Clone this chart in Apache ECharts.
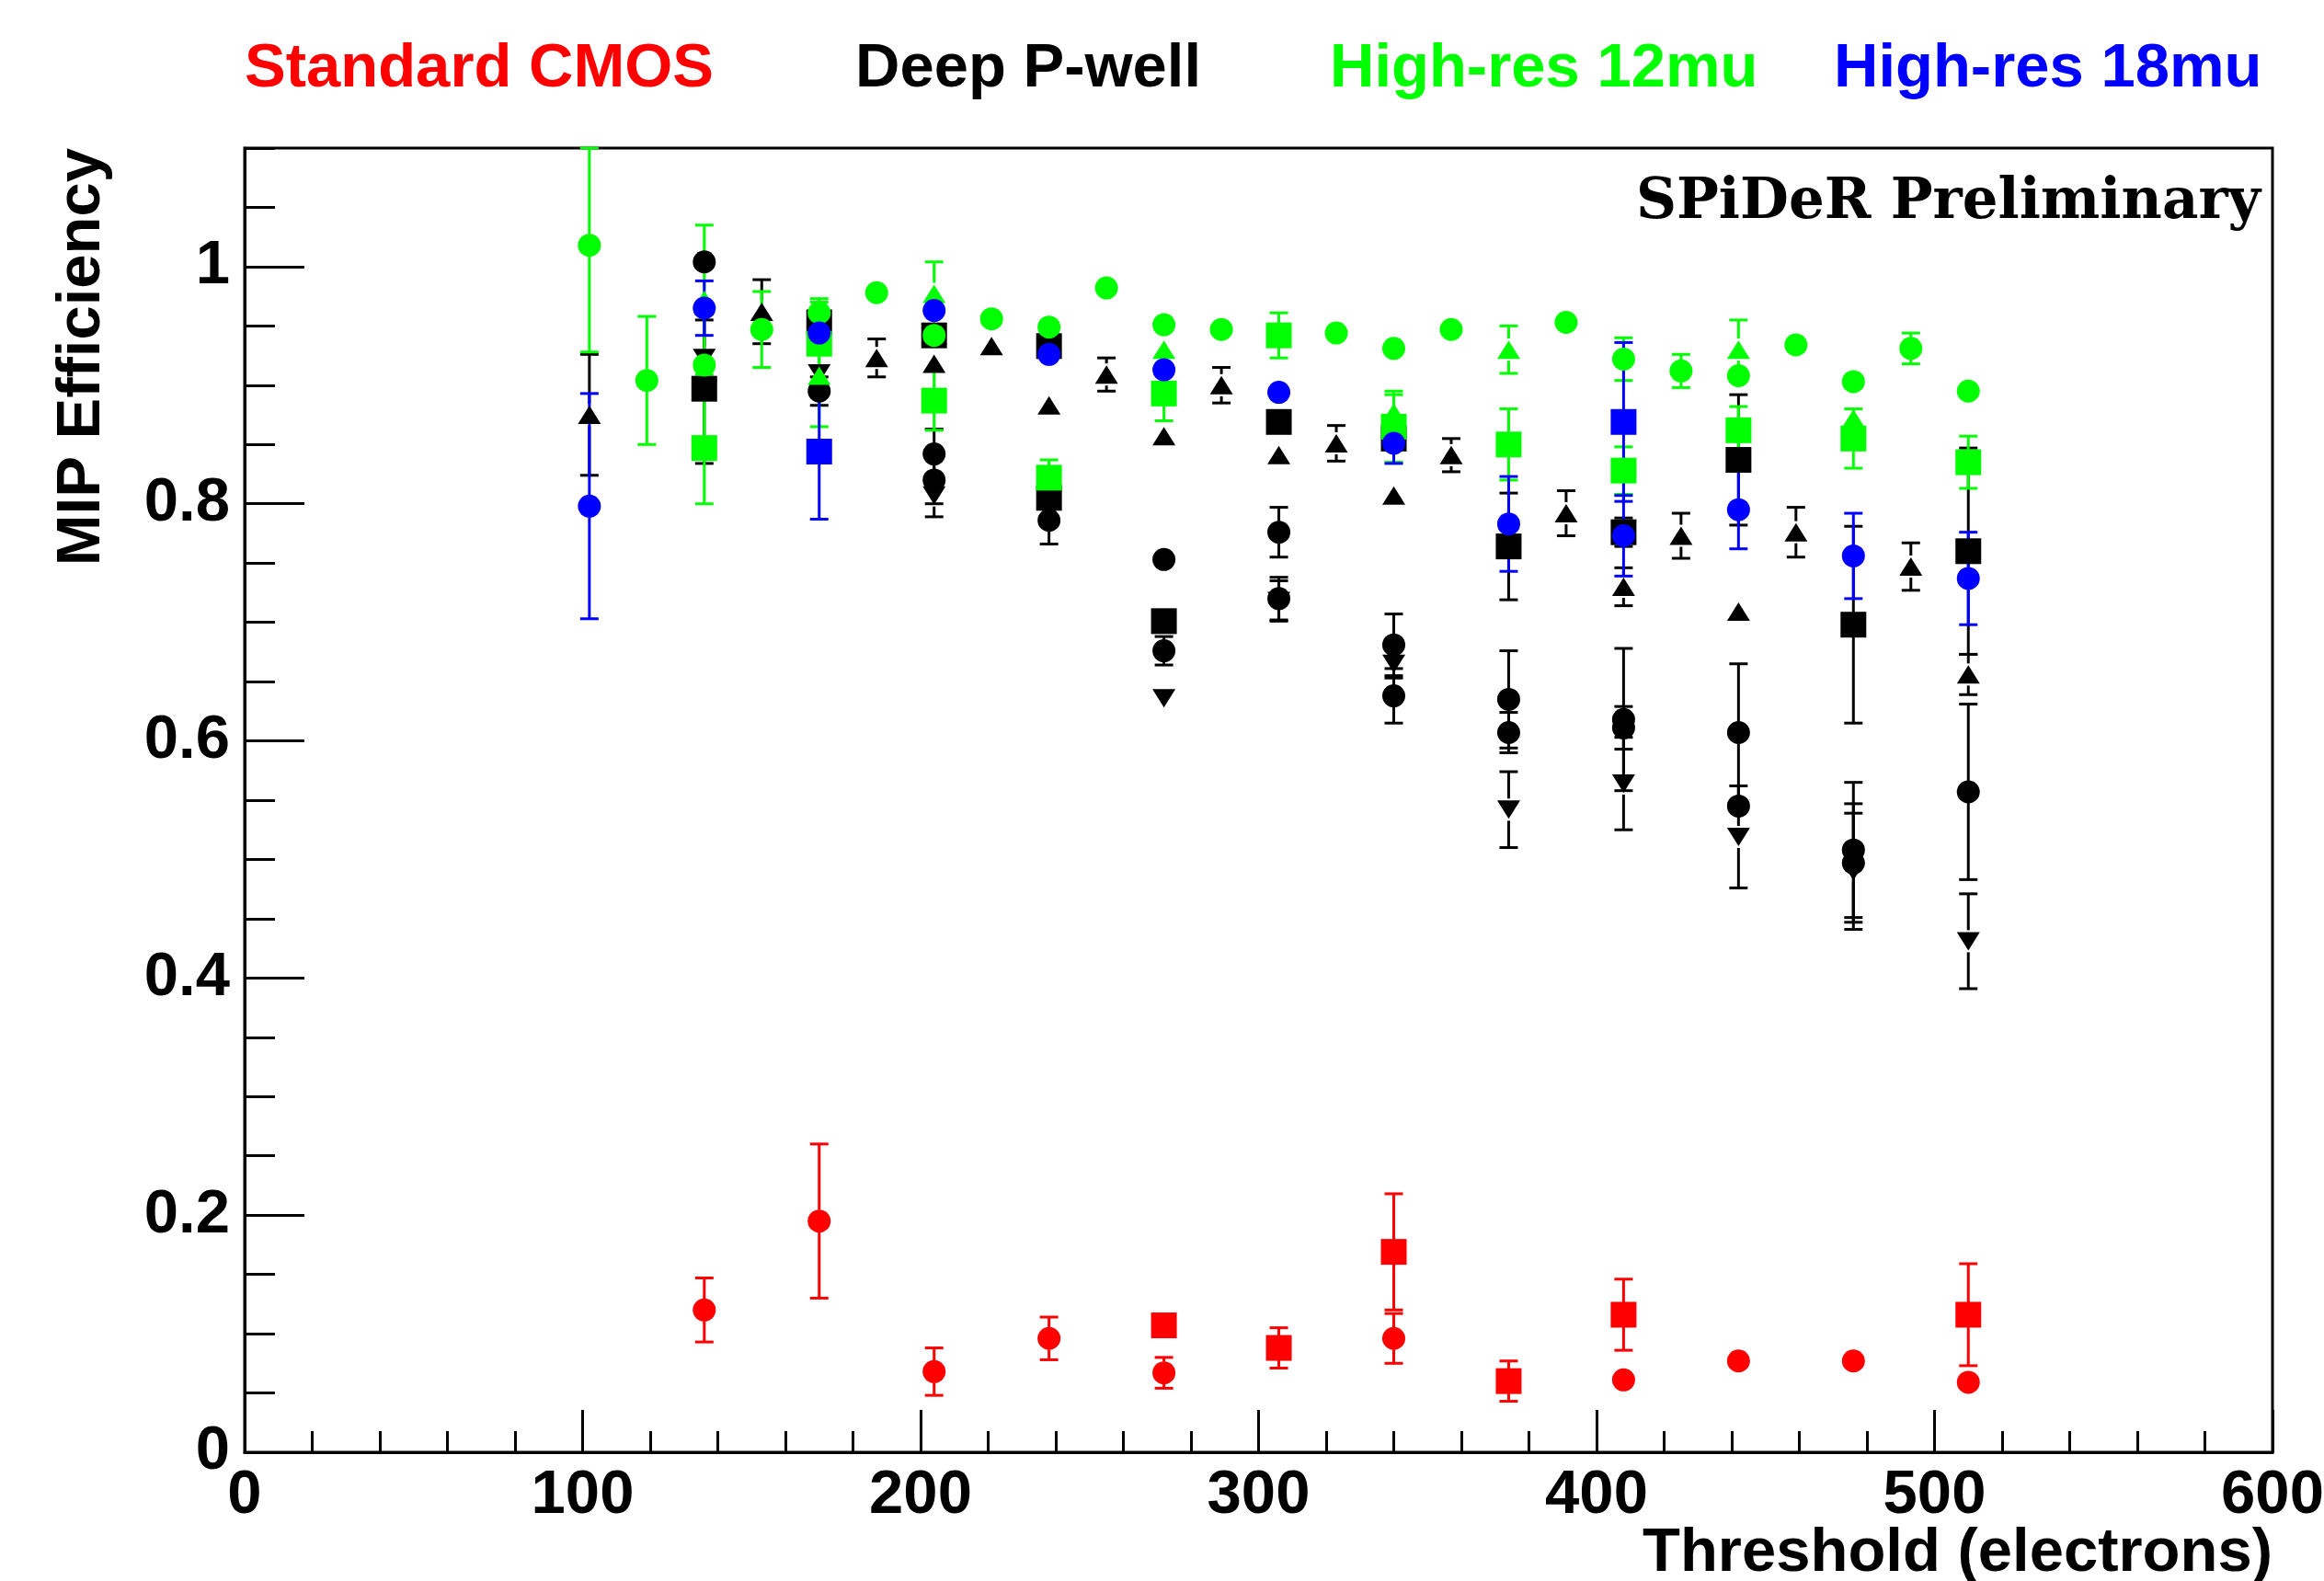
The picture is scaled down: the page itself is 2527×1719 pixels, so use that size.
<!DOCTYPE html>
<html>
<head>
<meta charset="utf-8">
<script src="https://cdn.jsdelivr.net/npm/echarts@6/dist/echarts.min.js"></script>
<style>
html,body{margin:0;padding:0;background:#ffffff;}
#chart{width:2527px;height:1719px;}
</style>
</head>
<body>
<div id="chart"></div>
<script>
// ---- tick labels ----
const xTickLabels = ['0', '100', '200', '300', '400', '500', '600'];
const yTickLabels = ['0', '0.2', '0.4', '0.6', '0.8', '1'];

// ---- data: [threshold (electrons), MIP efficiency, error] ----
// Standard CMOS (red)
const cmosCircle = [[136,0.120,0.027],[170,0.195,0.065],[204,0.068,0.020],[238,0.096,0.018],[272,0.067,0.013],[340,0.096,0.021],[408,0.061,0.005],[442,0.077,0.005],[476,0.077,0.005],[510,0.059,0.005]];
const cmosSquare = [[272,0.107,0.005],[306,0.088,0.017],[340,0.169,0.049],[374,0.060,0.017],[408,0.116,0.030],[510,0.116,0.043]];

// Deep P-well (black)
const dpwCircleA = [[136,1.004,0.010],[170,0.895,0.012],[204,0.842,0.021],[238,0.786,0.020],[272,0.753,0.010],[306,0.776,0.021],[340,0.681,0.026],[374,0.635,0.041],[408,0.618,0.060],[442,0.607,0.058],[476,0.508,0.057],[510,0.557,0.074]];
const dpwCircleB = [[204,0.820,0.020],[272,0.676,0.012],[306,0.720,0.018],[340,0.638,0.023],[374,0.607,0.017],[408,0.611,0.018],[442,0.545,0.010],[476,0.497,0.050]];
const dpwSquareA = [[136,0.897,0.063],[170,0.953,0.010],[204,0.942,0.010],[238,0.933,0.010],[306,0.869,0.010],[340,0.855,0.010],[374,0.764,0.045],[408,0.776,0.012],[442,0.837,0.055],[476,0.698,0.083],[510,0.760,0.087]];
const dpwSquareB = [[238,0.805,0.010],[272,0.701,0.010]];
const dpwTriUpA = [[153,0.962,0.027],[187,0.923,0.016],[221,0.933,0.006],[255,0.909,0.014],[289,0.900,0.015],[323,0.851,0.015],[357,0.841,0.014],[391,0.792,0.019],[425,0.773,0.019],[459,0.776,0.021],[493,0.747,0.020]];
const dpwTriUpB = [[102,0.875,0.051],[204,0.918,0.010],[238,0.883,0.010],[272,0.857,0.010],[306,0.841,0.010],[340,0.807,0.010],[408,0.730,0.016],[442,0.709,0.010],[510,0.656,0.017]];
const dpwTriDown = [[136,0.923,0.032],[170,0.910,0.010],[204,0.807,0.018],[272,0.636,0.008],[306,0.718,0.017],[340,0.665,0.012],[374,0.542,0.032],[408,0.564,0.039],[442,0.519,0.043],[476,0.490,0.049],[510,0.431,0.040]];

// High-res 12mu (green)
const hr12CircleA = [[102,1.018,0.090],[136,0.917,0.010],[170,0.961,0.012],[204,0.942,0.010],[238,0.949,0.010],[272,0.951,0.010],[340,0.931,0.010],[408,0.922,0.018],[442,0.908,0.010],[476,0.903,0.010],[510,0.895,0.010]];
const hr12CircleB = [[119,0.904,0.054],[153,0.947,0.032],[187,0.978,0.005],[221,0.956,0.005],[255,0.982,0.005],[289,0.947,0.005],[323,0.944,0.005],[357,0.947,0.005],[391,0.953,0.005],[425,0.912,0.014],[459,0.934,0.005],[493,0.931,0.013]];
const hr12Triangle = [[136,0.972,0.063],[170,0.908,0.043],[204,0.977,0.027],[272,0.930,0.010],[340,0.877,0.015],[374,0.930,0.020],[442,0.930,0.025],[476,0.872,0.010]];
const hr12Square = [[136,0.847,0.047],[170,0.935,0.035],[204,0.887,0.025],[238,0.822,0.015],[272,0.893,0.023],[306,0.942,0.019],[340,0.865,0.030],[374,0.850,0.030],[408,0.828,0.020],[442,0.862,0.020],[476,0.855,0.025],[510,0.835,0.022]];

// High-res 18mu (blue)
const hr18Circle = [[102,0.798,0.095],[136,0.965,0.023],[170,0.944,0.010],[204,0.963,0.010],[238,0.926,0.010],[272,0.913,0.010],[306,0.894,0.010],[340,0.851,0.017],[374,0.783,0.040],[408,0.773,0.034],[442,0.795,0.033],[476,0.756,0.036],[510,0.737,0.039]];
const hr18Square = [[170,0.844,0.057],[408,0.869,0.067]];

// ---- chart ----
const X_MIN = 0, X_MAX = 600, Y_MIN = 0, Y_MAX = 1.1;
const RED = '#ff0000', BLACK = '#000000', GREEN = '#00ff00', BLUE = '#0000ff';
const SANS = '"Liberation Sans", Arial, Helvetica, sans-serif';

const chart = echarts.init(document.getElementById('chart'), null, {renderer: 'canvas'});

function errRender(color) {
  return function (params, api) {
    const x = api.value(0), y = api.value(1), e = api.value(2);
    const c = api.coord([x, y]);
    const hi = api.coord([x, Math.min(y + e, Y_MAX)]);
    const lo = api.coord([x, Math.max(y - e, Y_MIN)]);
    const gap = 12, hw = 10;
    const st = {stroke: color, lineWidth: 3};
    const ch = [];
    if (c[1] - hi[1] > gap + 1) {
      ch.push({type: 'line', shape: {x1: c[0], y1: c[1] - gap, x2: c[0], y2: hi[1]}, style: st});
      ch.push({type: 'line', shape: {x1: c[0] - hw, y1: hi[1], x2: c[0] + hw, y2: hi[1]}, style: st});
    }
    if (lo[1] - c[1] > gap + 1) {
      ch.push({type: 'line', shape: {x1: c[0], y1: c[1] + gap, x2: c[0], y2: lo[1]}, style: st});
      ch.push({type: 'line', shape: {x1: c[0] - hw, y1: lo[1], x2: c[0] + hw, y2: lo[1]}, style: st});
    }
    return {type: 'group', children: ch};
  };
}

const series = [];
function addSet(name, color, data, symbol, size, rotate) {
  series.push({
    type: 'custom', name: name, data: data, renderItem: errRender(color),
    encode: {x: 0, y: 1}, silent: true, clip: false, xAxisIndex: 0, yAxisIndex: 0
  });
  series.push({
    type: 'scatter', name: name, data: data, symbol: symbol, symbolSize: size,
    symbolRotate: rotate || 0, itemStyle: {color: color, opacity: 1},
    encode: {x: 0, y: 1}, silent: true, xAxisIndex: 0, yAxisIndex: 0
  });
}

const CIRC = 25, SQ = 28, TRI = [25, 20];
addSet('Standard CMOS', RED, cmosCircle, 'circle', CIRC);
addSet('Standard CMOS', RED, cmosSquare, 'rect', SQ);
addSet('Deep P-well', BLACK, dpwCircleA, 'circle', CIRC);
addSet('Deep P-well', BLACK, dpwCircleB, 'circle', CIRC);
addSet('Deep P-well', BLACK, dpwSquareA, 'rect', SQ);
addSet('Deep P-well', BLACK, dpwSquareB, 'rect', SQ);
addSet('Deep P-well', BLACK, dpwTriUpA, 'triangle', TRI);
addSet('Deep P-well', BLACK, dpwTriUpB, 'triangle', TRI);
addSet('Deep P-well', BLACK, dpwTriDown, 'triangle', TRI, 180);
addSet('High-res 12mu', GREEN, hr12CircleA, 'circle', CIRC);
addSet('High-res 12mu', GREEN, hr12CircleB, 'circle', CIRC);
addSet('High-res 12mu', GREEN, hr12Triangle, 'triangle', TRI);
addSet('High-res 12mu', GREEN, hr12Square, 'rect', SQ);
addSet('High-res 18mu', BLUE, hr18Circle, 'circle', CIRC);
addSet('High-res 18mu', BLUE, hr18Square, 'rect', SQ);

function legendAt(name, color, left) {
  return {
    data: [{name: name, textStyle: {color: color}}],
    left: left - 5, top: 42, padding: 0, itemWidth: 0, itemHeight: 0, itemGap: 0,
    icon: 'rect', selectedMode: false,
    textStyle: {fontSize: 67, fontWeight: 'bold', fontFamily: SANS, color: color, lineHeight: 67}
  };
}

const labelFont = {color: '#000', fontSize: 67, fontWeight: 'bold', fontFamily: SANS};
const lineBlack = {color: '#000', width: 3};

const option = {
  backgroundColor: '#ffffff',
  animation: false,
  legend: [
    legendAt('Standard CMOS', RED, 266),
    legendAt('Deep P-well', BLACK, 930),
    legendAt('High-res 12mu', GREEN, 1446),
    legendAt('High-res 18mu', BLUE, 1994)
  ],
  grid: {left: 266, top: 161, width: 2205, height: 1418, show: true, borderColor: '#000', borderWidth: 3,
         backgroundColor: 'transparent', containLabel: false, outerBoundsMode: 'none'},
  xAxis: {
    type: 'value', min: X_MIN, max: X_MAX, interval: 100,
    axisLine: {show: true, lineStyle: lineBlack},
    axisTick: {show: true, inside: true, length: 46, lineStyle: lineBlack},
    minorTick: {show: true, splitNumber: 5, length: 23, lineStyle: lineBlack},
    splitLine: {show: false}, minorSplitLine: {show: false},
    axisLabel: Object.assign({margin: 14, formatter: function (v, i) { return xTickLabels[i] !== undefined ? xTickLabels[i] : ''; }}, labelFont),
    name: 'Threshold (electrons)', nameLocation: 'end', nameGap: 0, nameMoveOverlap: false,
    nameTextStyle: Object.assign({align: 'right', verticalAlign: 'top', padding: [77, 0, 0, 0], lineHeight: 67}, labelFont)
  },
  yAxis: [
    {
      type: 'value', min: Y_MIN, max: Y_MAX, interval: 0.2, position: 'left',
      axisLine: {show: true, lineStyle: lineBlack},
      axisTick: {show: true, inside: true, length: 65, lineStyle: lineBlack},
      minorTick: {show: false},
      splitLine: {show: false},
      axisLabel: Object.assign({margin: 16, showMaxLabel: false, formatter: function (v, i) { return yTickLabels[i] !== undefined ? yTickLabels[i] : ''; }}, labelFont),
      name: 'MIP Efficiency', nameLocation: 'end', nameGap: 0, nameRotate: 90, nameMoveOverlap: false,
      nameTextStyle: Object.assign({align: 'right', verticalAlign: 'bottom', padding: [0, 0, 143, 0], lineHeight: 67}, labelFont)
    },
    {
      type: 'value', min: Y_MIN, max: Y_MAX, interval: 0.05, position: 'left', offset: 0,
      axisLine: {show: false},
      axisTick: {show: true, inside: true, length: 33, lineStyle: lineBlack},
      axisLabel: {show: false},
      splitLine: {show: false}
    }
  ],
  graphic: [
    {type: 'text', x: 2458, y: 252, silent: true,
     style: {text: 'SPiDeR Preliminary', fill: '#000', font: 'bold 61px "DejaVu Serif", serif', align: 'right', verticalAlign: 'bottom'}}
  ],
  series: series
};

chart.setOption(option);
</script>
</body>
</html>
